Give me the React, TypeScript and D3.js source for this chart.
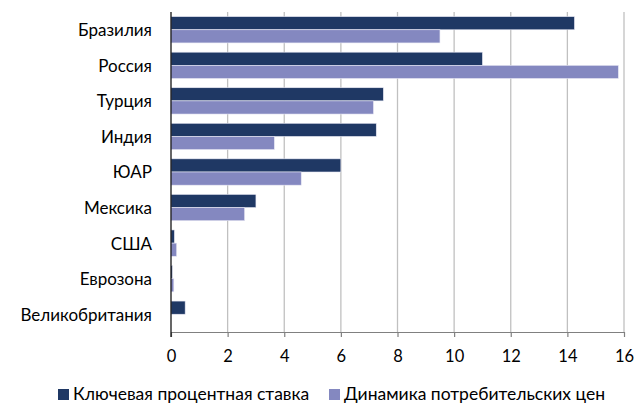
import React, { useEffect, useRef } from 'react';
import * as d3 from 'd3';

const countries = ['Бразилия', 'Россия', 'Турция', 'Индия', 'ЮАР', 'Мексика', 'США', 'Еврозона', 'Великобритания'];
const keyRate = [14.25, 11, 7.5, 7.25, 6, 3, 0.12, 0.05, 0.5];
const cpi = [9.5, 15.8, 7.15, 3.65, 4.6, 2.6, 0.2, 0.1, 0];
const seriesNames = ['Ключевая процентная ставка', 'Динамика потребительских цен'];
const seriesColors = ['#1f3864', '#8488c0'];
const xTicks = [0, 2, 4, 6, 8, 10, 12, 14, 16];

const FONT = 'Lato, sans-serif';

const App = () => {
  const ref = useRef<SVGSVGElement>(null);
  const dims = { width: 644, height: 403, left: 171, right: 624, top: 12, bottom: 332 };

  useEffect(() => {
    // no scrollbars
    document.body.style.margin = '0';
    document.body.style.overflow = 'hidden';

    const svg = d3.select(ref.current);
    svg.selectAll('*').remove();

    // scales
    const x = d3.scaleLinear().domain([0, 16]).range([dims.left, dims.right]);
    const y = d3.scaleBand().domain(countries).range([dims.top, dims.bottom])
      .paddingInner(0.26).paddingOuter(0.13);
    const ySub = d3.scaleBand().domain(seriesNames).range([0, y.bandwidth()]);

    // grid
    svg.append('g')
      .selectAll('line')
      .data(xTicks.slice(1))
      .join('line')
      .attr('x1', d => x(d)).attr('x2', d => x(d))
      .attr('y1', dims.top).attr('y2', dims.bottom)
      .attr('stroke', '#c0c0c0').attr('stroke-width', 1.3);

    // bars
    const rows = countries.map((c, i) => ({ c, vals: [keyRate[i], cpi[i]] }));
    const groups = svg.append('g')
      .selectAll('g')
      .data(rows)
      .join('g')
      .attr('transform', d => `translate(0, ${y(d.c)})`);
    groups.selectAll('rect')
      .data(d => d.vals.map((v, k) => ({ v, k })))
      .join('rect')
      .attr('x', x(0))
      .attr('y', d => ySub(seriesNames[d.k])!)
      .attr('width', d => x(d.v) - x(0))
      .attr('height', ySub.bandwidth())
      .attr('fill', d => seriesColors[d.k])
      .attr('stroke', d => d.v > 0 ? '#e8e8f4' : 'none')
      .attr('stroke-width', 0.6);

    // x axis
    const xAxis = svg.append('g')
      .attr('transform', `translate(0, ${dims.bottom})`)
      .call(d3.axisBottom(x).tickValues(xTicks).tickSize(5).tickSizeOuter(0).tickPadding(13));
    xAxis.select('.domain').attr('stroke', '#808080').attr('stroke-width', 1.2);
    xAxis.selectAll('.tick line').attr('stroke', '#808080').attr('stroke-width', 1.2);
    xAxis.selectAll('.tick text')
      .attr('font-family', FONT).attr('font-size', 16.5).attr('fill', '#000');

    // y axis line
    svg.append('line')
      .attr('x1', dims.left).attr('x2', dims.left)
      .attr('y1', dims.top).attr('y2', dims.bottom + 5)
      .attr('stroke', '#000').attr('stroke-width', 1.2);

    // category labels
    svg.append('g')
      .selectAll('text')
      .data(countries)
      .join('text')
      .attr('x', 152)
      .attr('y', d => y(d)! + y.bandwidth() / 2)
      .attr('dy', '0.38em')
      .attr('text-anchor', 'end')
      .attr('font-family', FONT).attr('font-size', 17)
      .text(d => d);

    // legend
    const legendX = [58, 329];
    const legend = svg.append('g')
      .selectAll('g')
      .data(seriesNames)
      .join('g')
      .attr('transform', (d, i) => `translate(${legendX[i]}, 389)`);
    legend.append('rect')
      .attr('width', 11).attr('height', 11)
      .attr('fill', (d, i) => seriesColors[i]);
    legend.append('text')
      .attr('x', 15).attr('y', 11)
      .attr('font-family', FONT).attr('font-size', 17.5)
      .text(d => d);
  }, []);

  return (
    <div>
      <svg ref={ref} width={dims.width} height={dims.height} style={{ display: 'block', background: '#fff' }} />
    </div>
  );
};

export default App;
